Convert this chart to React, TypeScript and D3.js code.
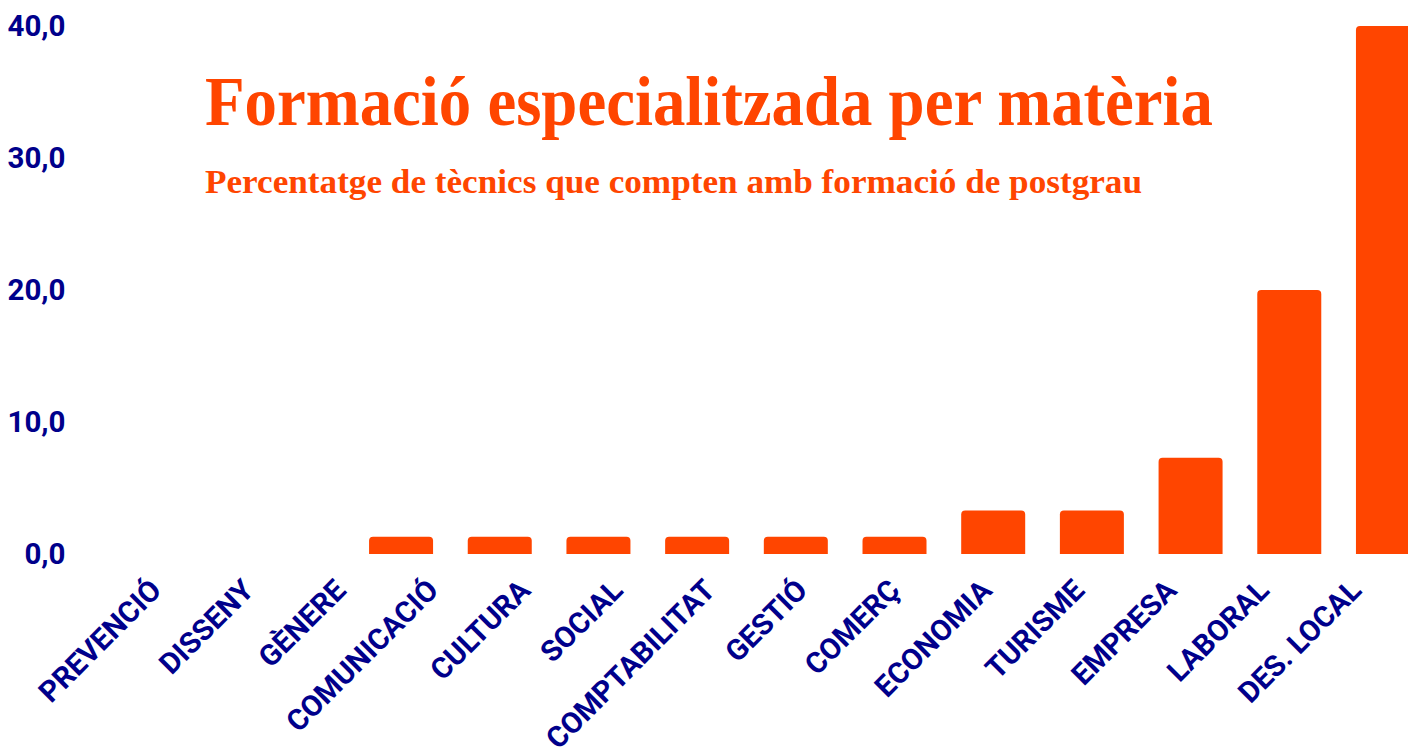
import React from "react";
import * as d3 from "d3";

const categories = [
  "PREVENCIÓ", "DISSENY", "GÈNERE", "COMUNICACIÓ", "CULTURA", "SOCIAL",
  "COMPTABILITAT", "GESTIÓ", "COMERÇ", "ECONOMIA", "TURISME", "EMPRESA",
  "LABORAL", "DES. LOCAL",
];
const values = [0, 0, 0, 1.3, 1.3, 1.3, 1.3, 1.3, 1.3, 3.3, 3.3, 7.3, 20.0, 40.0];
const yTicks = [0, 10, 20, 30, 40];
const title = "Formació especialitzada per matèria";
const subtitle = "Percentatge de tècnics que compten amb formació de postgrau";

const W = 1400;
const H = 746;
const ORANGE = "#ff4500";
const NAVY = "#00008b";

function topRounded(x: number, y: number, w: number, h: number, r: number) {
  if (h <= 0) return "";
  const rr = Math.min(r, h, w / 2);
  return `M${x},${y + h} L${x},${y + rr} Q${x},${y} ${x + rr},${y} L${x + w - rr},${y} Q${x + w},${y} ${x + w},${y + rr} L${x + w},${y + h} Z`;
}

export default function App() {
  const x = d3
    .scaleBand<string>()
    .domain(categories)
    .range([47.65, 1429.3])
    .paddingInner(0.3515)
    .paddingOuter(0.17575);
  const y = d3.scaleLinear().domain([0, 40]).range([546, 18]);
  const xl = d3.scalePoint<string>().domain(categories).range([155, 1355]);
  const fmt = (v: number) => d3.format(".1f")(v).replace(".", ",");

  return (
    <svg width={W} height={H} style={{ display: "block" }}>
      <g>
        {categories.map((c, i) => {
          const v = values[i];
          const top = y(v);
          return (
            <path
              key={c}
              d={topRounded(x(c)!, top, x.bandwidth(), y(0) - top, 4)}
              fill={ORANGE}
            />
          );
        })}
      </g>
      <g fontFamily="Roboto" fontWeight={700} fontSize={29.5} fill={NAVY}>
        {yTicks.map((t) => (
          <text key={t} x={57.5} y={y(t)} dy="0.35em" textAnchor="end">
            {fmt(t)}
          </text>
        ))}
      </g>
      <g fontFamily="Roboto" fontWeight={700} fontSize={29.3} fill={NAVY}>
        {categories.map((c) => (
          <text
            key={c}
            textAnchor="end"
            transform={`translate(${xl(c)},${584}) rotate(-45)`}
          >
            {c}
          </text>
        ))}
      </g>
      <text
        x={197}
        y={117}
        fontFamily="Liberation Serif"
        fontWeight={700}
        fontSize={70}
        fill={ORANGE}
        textLength={1008}
        lengthAdjust="spacingAndGlyphs"
      >
        {title}
      </text>
      <text
        x={197}
        y={185}
        fontFamily="Liberation Serif"
        fontWeight={700}
        fontSize={34}
        fill={ORANGE}
        textLength={937}
        lengthAdjust="spacingAndGlyphs"
      >
        {subtitle}
      </text>
    </svg>
  );
}
